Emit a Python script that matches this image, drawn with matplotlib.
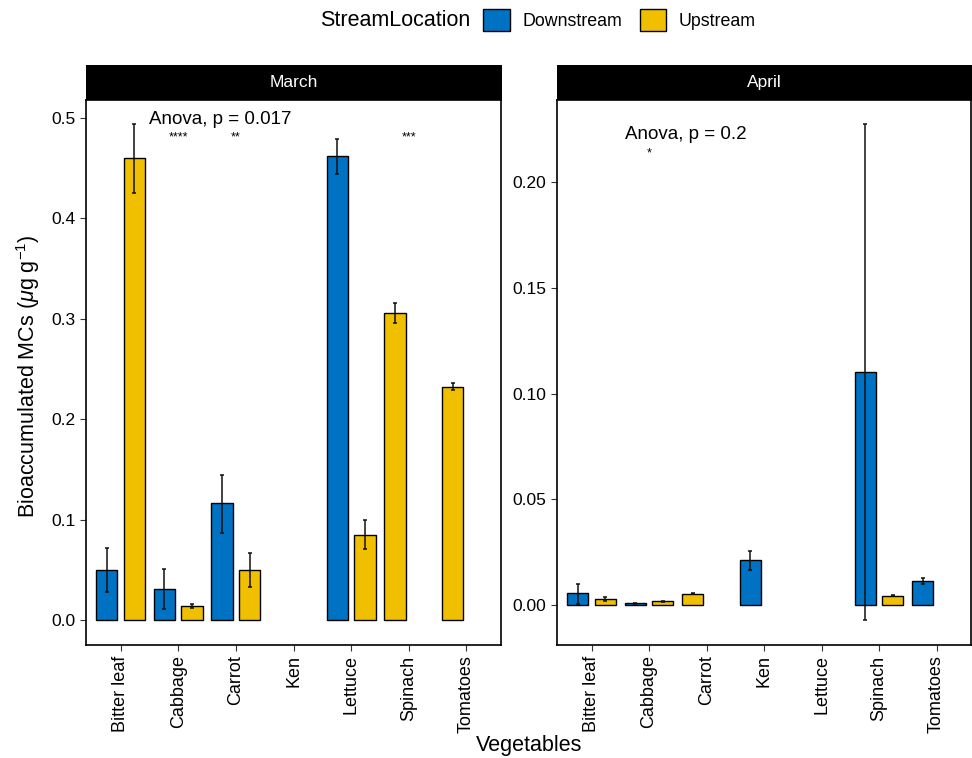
import numpy as np
import matplotlib
matplotlib.use("Agg")
import matplotlib.pyplot as plt
from matplotlib.patches import Patch

plt.rcParams["font.family"] = ["Liberation Sans", "DejaVu Sans"]
plt.rcParams["mathtext.fontset"] = "custom"
plt.rcParams["mathtext.rm"] = "Liberation Sans"
plt.rcParams["mathtext.it"] = "Liberation Sans:italic"

vegetables = ["Bitter leaf", "Cabbage", "Carrot", "Ken", "Lettuce", "Spinach", "Tomatoes"]

# March: mean and (low, high) error bar ends, NaN = missing group
march_down = [0.050, 0.031, 0.116, np.nan, 0.462, np.nan, np.nan]
march_down_lo = [0.028, 0.011, 0.087, np.nan, 0.444, np.nan, np.nan]
march_down_hi = [0.072, 0.051, 0.144, np.nan, 0.479, np.nan, np.nan]
march_up = [0.460, 0.014, 0.050, np.nan, 0.085, 0.306, 0.232]
march_up_lo = [0.425, 0.012, 0.033, np.nan, 0.071, 0.296, 0.229]
march_up_hi = [0.494, 0.016, 0.067, np.nan, 0.100, 0.316, 0.236]

# April
april_down = [0.0055, 0.0008, np.nan, 0.0213, np.nan, 0.110, 0.0115]
april_down_lo = [0.0007, 0.0006, np.nan, 0.0167, np.nan, -0.0071, 0.0101]
april_down_hi = [0.0098, 0.0010, np.nan, 0.0257, np.nan, 0.2275, 0.0130]
april_up = [0.0028, 0.0017, 0.0053, np.nan, np.nan, 0.0044, np.nan]
april_up_lo = [0.0018, 0.0014, 0.0052, np.nan, np.nan, 0.0042, np.nan]
april_up_hi = [0.0038, 0.0020, 0.0055, np.nan, np.nan, 0.0046, np.nan]

anova_labels = ["Anova, p = 0.017", "Anova, p = 0.2"]
march_stars = {"Cabbage": "****", "Carrot": "**", "Spinach": "***"}
april_stars = {"Cabbage": "*"}

c_down = "#0072C3"
c_up = "#F0C000"

W, H = 972, 758
fig = plt.figure(figsize=(W / 100, H / 100), dpi=100)


def px_axes(x0, y0, x1, y1):
    return fig.add_axes([x0 / W, 1 - y1 / H, (x1 - x0) / W, (y1 - y0) / H])


def draw_panel(ax, down, dlo, dhi, up, ulo, uhi, ylim, yticks, yfmt):
    x = np.arange(len(vegetables))
    off, bw = 0.24, 0.37
    for i in range(len(vegetables)):
        d_ok = not np.isnan(down[i])
        u_ok = not np.isnan(up[i])
        both = d_ok and u_ok
        if d_ok:
            xi = x[i] - off
            ax.bar(xi, down[i], width=bw, color=c_down, edgecolor="black", linewidth=1.0, zorder=2)
            ax.errorbar(xi, down[i], yerr=[[down[i] - dlo[i]], [dhi[i] - down[i]]],
                        color="#111111", capsize=1.5, elinewidth=1.1, capthick=1.1, zorder=3)
        if u_ok:
            # single bars keep the left dodge slot
            xi = x[i] + off if both else x[i] - off
            ax.bar(xi, up[i], width=bw, color=c_up, edgecolor="black", linewidth=1.0, zorder=2)
            ax.errorbar(xi, up[i], yerr=[[up[i] - ulo[i]], [uhi[i] - up[i]]],
                        color="#111111", capsize=1.5, elinewidth=1.1, capthick=1.1, zorder=3)
    ax.set_xlim(-0.6, len(vegetables) - 0.4)
    ax.set_ylim(*ylim)
    ax.set_xticks(x)
    ax.set_xticklabels(vegetables, rotation=90, fontsize=13)
    ax.set_yticks(yticks)
    ax.set_yticklabels([yfmt.format(v) for v in yticks], fontsize=12.5)
    ax.tick_params(length=4, width=0.8, color="#333333")
    for s in ax.spines.values():
        s.set_linewidth(1.2)


def strip(x0, x1, label):
    sa = px_axes(x0, 65, x1, 100)
    sa.set_facecolor("black")
    sa.set_xticks([])
    sa.set_yticks([])
    for s in sa.spines.values():
        s.set_visible(False)
    sa.text(0.5, 0.5, label, color="white", fontsize=12.5, ha="center", va="center",
            transform=sa.transAxes)


ax1 = px_axes(86, 100, 501, 645)
draw_panel(ax1, march_down, march_down_lo, march_down_hi, march_up, march_up_lo, march_up_hi,
           (-0.025, 0.518), [0.0, 0.1, 0.2, 0.3, 0.4, 0.5], "{:.1f}")
ax1.text(0.5, 0.499, anova_labels[0], fontsize=13.5, ha="left", va="center")
for k, s in march_stars.items():
    ax1.text(vegetables.index(k), 0.481, s, fontsize=9, ha="center", va="center")
strip(86, 502, "March")

ax2 = px_axes(557, 100, 971, 645)
draw_panel(ax2, april_down, april_down_lo, april_down_hi, april_up, april_up_lo, april_up_hi,
           (-0.0189, 0.2388), [0.0, 0.05, 0.10, 0.15, 0.20], "{:.2f}")
ax2.text(0.58, 0.2227, anova_labels[1], fontsize=13.5, ha="left", va="center")
for k, s in april_stars.items():
    ax2.text(vegetables.index(k), 0.2137, s, fontsize=9, ha="center", va="center")
strip(557, 972, "April")

fig.text(28 / W, 1 - 376 / H, r"Bioaccumulated MCs ($\mu$g g$^{-1}$)", rotation=90,
         fontsize=15.5, ha="center", va="center")
fig.text(529 / W, 1 - 746 / H, "Vegetables", fontsize=15.5, ha="center", va="center")

fig.text(470 / W, 1 - 20 / H, "StreamLocation", fontsize=15.5, ha="right", va="center")
handles = [Patch(facecolor=c_down, edgecolor="black", linewidth=1.0, label="Downstream"),
           Patch(facecolor=c_up, edgecolor="black", linewidth=1.0, label="Upstream")]
fig.legend(handles=handles, loc="center left", bbox_to_anchor=(483 / W, 1 - 20 / H), ncol=2,
           frameon=False, fontsize=12.8, handlelength=1.5, handleheight=1.5,
           handletextpad=0.7, columnspacing=1.0, borderaxespad=0, borderpad=0)

fig.savefig("out.png", dpi=100)
